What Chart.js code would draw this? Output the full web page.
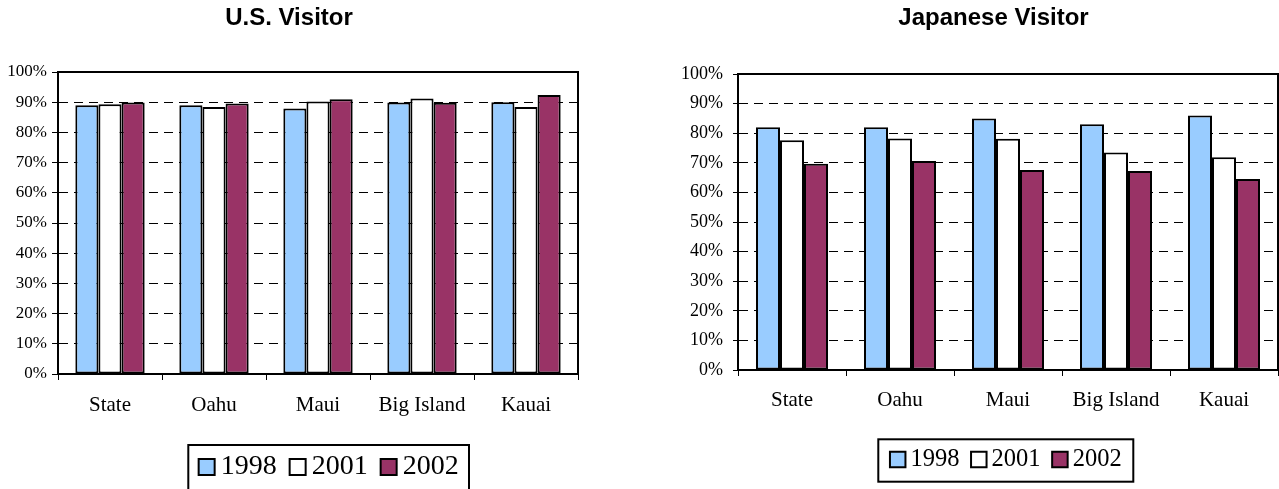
<!DOCTYPE html>
<html>
<head>
<meta charset="utf-8">
<title>Visitor satisfaction by island</title>
<script src="https://cdn.jsdelivr.net/npm/chart.js@4.4.1/dist/chart.umd.min.js"></script>
<style>
  html, body { margin: 0; padding: 0; background: #ffffff; }
  body { position: relative; width: 1279px; height: 489px; overflow: hidden; }
  canvas { position: absolute; top: 0; }
  #usChart { left: 0; }
  #jpChart { left: 640px; }
</style>
</head>
<body>
<canvas id="usChart" width="580" height="489"></canvas>
<canvas id="jpChart" width="639" height="489"></canvas>
<script>
// Islands shown along the category axis
const islands = ['State', 'Oahu', 'Maui', 'Big Island', 'Kauai'];
// Survey years (one bar series each)
const years = ['1998', '2001', '2002'];

// U.S. visitors, percent per island
const us1998 = [89.0, 89.0, 87.9, 89.9, 90.0];
const us2001 = [89.3, 88.4, 90.2, 91.2, 88.4];
const us2002 = [89.9, 89.6, 91.0, 89.8, 92.4];

// Japanese visitors, percent per island
const jp1998 = [82.0, 82.0, 85.0, 83.0, 86.0];
const jp2001 = [77.6, 78.2, 78.1, 73.5, 71.9];
const jp2002 = [69.7, 70.6, 67.6, 67.2, 64.5];

// Value axis tick values
const percentTicks = [0, 10, 20, 30, 40, 50, 60, 70, 80, 90, 100];

const seriesColors = ['#99CCFF', '#FFFFFF', '#993366'];
const SERIF = "'Liberation Serif', 'Times New Roman', serif";
const SANS = "'Liberation Sans', Arial, sans-serif";

// Plot frame, title placement and a boxed legend row under the chart
const framePlugin = {
  id: 'plotFrame',
  afterLayout(chart, args, opts) {
    const t = chart.titleBlock;
    if (t && opts.titleCenter != null) {
      const half = (t.right - t.left) / 2;
      t.left = opts.titleCenter - half;
      t.right = opts.titleCenter + half;
    }
  },
  afterDraw(chart, args, opts) {
    const ctx = chart.ctx;
    const a = chart.chartArea;
    ctx.save();
    ctx.strokeStyle = '#000';
    ctx.lineWidth = 2;
    ctx.strokeRect(a.left, a.top, a.right - a.left, a.bottom - a.top);

    const L = opts.legend;
    if (L) {
      ctx.lineWidth = 2;
      ctx.strokeRect(L.x, L.y, L.w, L.h);
      ctx.font = L.fontSize + 'px ' + SERIF;
      ctx.textBaseline = 'middle';
      ctx.textAlign = 'left';
      const ds = chart.data.datasets;
      const widths = ds.map(d => L.box + L.gap + ctx.measureText(d.label).width);
      const total = widths.reduce((s, w) => s + w, 0) + L.spacing * (ds.length - 1);
      let x = L.x + L.w / 2 - total / 2;
      ds.forEach((d, i) => {
        const by = L.rowY - L.box / 2;
        ctx.fillStyle = d.backgroundColor;
        ctx.fillRect(x, by, L.box, L.box);
        ctx.lineWidth = 2;
        ctx.strokeStyle = '#000';
        ctx.strokeRect(x, by, L.box, L.box);
        ctx.fillStyle = '#000';
        ctx.fillText(d.label, x + L.box + L.gap, L.rowY);
        x += widths[i] + L.spacing;
      });
    }
    ctx.restore();
  }
};

function makeChart(id, title, series, geo) {
  return new Chart(document.getElementById(id), {
    type: 'bar',
    data: {
      labels: islands,
      datasets: years.map((y, i) => ({
        label: y,
        data: series[i],
        backgroundColor: seriesColors[i],
        borderColor: '#000',
        borderWidth: 2,
        borderSkipped: false,
        categoryPercentage: 3 / 4.5,
        barPercentage: 1.0
      }))
    },
    options: {
      responsive: false,
      animation: false,
      devicePixelRatio: 1,
      layout: { padding: { left: 0, right: geo.padRight, top: 0, bottom: 0 } },
      plugins: {
        legend: { display: false },
        tooltip: { enabled: false },
        title: {
          display: true,
          text: title,
          color: '#000',
          font: { family: SANS, size: 24, weight: 'bold', lineHeight: 1.2 },
          padding: { top: geo.titleTop, bottom: geo.titleBottom }
        },
        plotFrame: { legend: geo.legend, titleCenter: geo.titleCenter }
      },
      scales: {
        x: {
          grid: {
            display: true,
            drawOnChartArea: false,
            drawTicks: true,
            tickLength: 6,
            color: '#000',
            lineWidth: 1,
            offset: true
          },
          border: { display: true, color: '#000', width: 2 },
          ticks: {
            color: '#000',
            padding: geo.xPad,
            maxRotation: 0,
            autoSkip: false,
            font: { family: SERIF, size: geo.xFont, lineHeight: 1.2 }
          },
          afterFit(scale) { scale.height = geo.xHeight; }
        },
        y: {
          min: 0,
          max: 100,
          afterBuildTicks(scale) { scale.ticks = percentTicks.map(v => ({ value: v })); },
          grid: {
            color: '#000',
            lineWidth: 1,
            drawTicks: true,
            tickLength: geo.yTick,
            tickColor: '#000',
            tickBorderDash: [],
            tickWidth: 1
          },
          border: { display: true, color: '#000', width: 2, dash: [9, 6] },
          ticks: {
            color: '#000',
            padding: geo.yPad,
            font: { family: SERIF, size: geo.yFont },
            callback: v => v + '%'
          },
          afterFit(scale) { scale.width = geo.yWidth; }
        }
      }
    },
    plugins: [framePlugin]
  });
}

makeChart('usChart', 'U.S. Visitor', [us1998, us2001, us2002], {
  padRight: 2, titleCenter: 289,
  titleTop: 4.1, titleBottom: 39.1,
  yWidth: 58, yTick: 6, yPad: 5, yFont: 17,
  xHeight: 115, xPad: 12.7, xFont: 21,
  legend: { x: 188.3, y: 445, w: 280.7, h: 60, rowY: 467, fontSize: 28, box: 16, gap: 6, spacing: 13 }
});

makeChart('jpChart', 'Japanese Visitor', [jp1998, jp2001, jp2002], {
  padRight: 1, titleCenter: 353.5,
  titleTop: 4.3, titleBottom: 40.9,
  yWidth: 98, yTick: 5, yPad: 10, yFont: 18,
  xHeight: 119, xPad: 12.2, xFont: 21,
  legend: { x: 238.3, y: 439.3, w: 255, h: 42.4, rowY: 459.5, fontSize: 24.5, box: 15.5, gap: 5, spacing: 11.6 }
});
</script>
</body>
</html>
